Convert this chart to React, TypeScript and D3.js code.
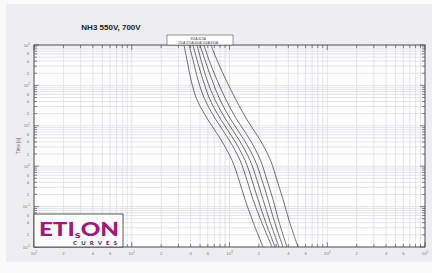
import React, { FC, useEffect, useRef } from "react";
import * as d3 from "d3";

// time points (s) shared by every curve
const times = [1000, 420, 136, 44, 14, 4.5, 1.4, 0.45, 0.15, 0.042, 0.01];

// prearcing currents (A), one list per rating
const i250 = [342, 368, 404, 465, 603, 819, 1061, 1251, 1441, 1740, 2202];
const i315 = [385, 424, 476, 561, 728, 989, 1281, 1510, 1740, 2126, 2722];
const i355 = [423, 466, 536, 632, 819, 1112, 1441, 1699, 1957, 2336, 2921];
const i400 = [465, 512, 589, 710, 921, 1251, 1621, 1911, 2202, 2597, 3210];
const i425 = [498, 562, 662, 799, 1036, 1408, 1824, 2150, 2477, 2887, 3527];
const i500 = [548, 618, 745, 921, 1194, 1621, 2076, 2419, 2786, 3210, 3875];
const i630 = [646, 746, 921, 1165, 1511, 2053, 2628, 3062, 3528, 4111, 5022];

const ratings = ["250A", "315A", "355A", "400A", "425A", "500A", "630A"];
const currents = [i250, i315, i355, i400, i425, i500, i630];

const legendTop = "355A  425A";
const legendBottom = "250A  315A  400A  500A  630A";

const minorLabels = [2, 4, 6];

const W = 432;
const H = 273;
const plot = { left: 34, right: 425, top: 45, bottom: 247 };

const App: FC = () => {
  const ref = useRef<SVGSVGElement>(null);

  useEffect(() => {
    const svg = d3.select(ref.current);
    svg.selectAll("*").remove();

    const x = d3.scaleLog().domain([10, 100000]).range([plot.left, plot.right]);
    const y = d3.scaleLog().domain([1000, 0.01]).range([plot.top, plot.bottom]);

    svg.append("rect").attr("width", W).attr("height", H).attr("fill", "#fafafa");
    svg
      .append("rect")
      .attr("x", 6)
      .attr("y", 4)
      .attr("width", W - 6)
      .attr("height", 258)
      .attr("fill", "#eeeef0");

    svg
      .append("text")
      .attr("x", 111)
      .attr("y", 30)
      .attr("text-anchor", "middle")
      .attr("font-family", "'Liberation Sans Narrow', 'Liberation Sans', sans-serif")
      .attr("font-weight", "bold")
      .attr("font-size", 8)
      .attr("fill", "#222")
      .text("NH3 550V, 700V");

    svg
      .append("rect")
      .attr("x", plot.left)
      .attr("y", plot.top)
      .attr("width", plot.right - plot.left)
      .attr("height", plot.bottom - plot.top)
      .attr("fill", "#fff");

    const xt = x.ticks();
    const yt = y.ticks();

    const grid = svg.append("g").attr("stroke", "#dcdce3").attr("stroke-width", 0.8);
    grid
      .selectAll("line.v")
      .data(xt)
      .join("line")
      .attr("class", "v")
      .attr("x1", (d) => x(d))
      .attr("x2", (d) => x(d))
      .attr("y1", plot.top)
      .attr("y2", plot.bottom);
    grid
      .selectAll("line.h")
      .data(yt)
      .join("line")
      .attr("class", "h")
      .attr("y1", (d) => y(d))
      .attr("y2", (d) => y(d))
      .attr("x1", plot.left)
      .attr("x2", plot.right);

    const isMajor = (d: number) => Math.abs(Math.log10(d) - Math.round(Math.log10(d))) < 1e-9;

    // inner tick marks on all four sides
    const ticks = svg.append("g").attr("stroke", "#555").attr("stroke-width", 0.7);
    xt.forEach((d) => {
      const len = isMajor(d) ? 5 : 3;
      ticks.append("line").attr("x1", x(d)).attr("x2", x(d)).attr("y1", plot.bottom).attr("y2", plot.bottom - len);
      ticks.append("line").attr("x1", x(d)).attr("x2", x(d)).attr("y1", plot.top).attr("y2", plot.top + len);
    });
    yt.forEach((d) => {
      const len = isMajor(d) ? 5 : 3;
      ticks.append("line").attr("y1", y(d)).attr("y2", y(d)).attr("x1", plot.left).attr("x2", plot.left + len);
      ticks.append("line").attr("y1", y(d)).attr("y2", y(d)).attr("x1", plot.right).attr("x2", plot.right - len);
    });

    // curves
    const line = d3
      .line<[number, number]>()
      .x((d) => x(d[0]))
      .y((d) => y(d[1]))
      .curve(d3.curveCatmullRom);

    svg
      .append("clipPath")
      .attr("id", "plotclip")
      .append("rect")
      .attr("x", plot.left)
      .attr("y", plot.top)
      .attr("width", plot.right - plot.left)
      .attr("height", plot.bottom - plot.top);

    svg
      .append("g")
      .attr("clip-path", "url(#plotclip)")
      .selectAll("path")
      .data(currents)
      .join("path")
      .attr("fill", "none")
      .attr("stroke", "#404040")
      .attr("stroke-width", 0.75)
      .attr("data-rating", (_, i) => ratings[i])
      .attr("d", (c) => line(c.map((v, i) => [v, times[i]] as [number, number])));

    // frame
    svg
      .append("rect")
      .attr("x", plot.left)
      .attr("y", plot.top)
      .attr("width", plot.right - plot.left)
      .attr("height", plot.bottom - plot.top)
      .attr("fill", "none")
      .attr("stroke", "#444")
      .attr("stroke-width", 0.9);

    const labelFont = "'Liberation Sans', sans-serif";
    const power = (g: any, d: number) => {
      const e = Math.round(Math.log10(d));
      g.append("tspan").text("10");
      g.append("tspan").attr("dy", -2).attr("font-size", 3).text(String(e));
    };

    // y labels
    const yl = svg.append("g").attr("font-family", labelFont).attr("font-size", 4.2).attr("fill", "#777");
    yt.forEach((d) => {
      if (isMajor(d)) {
        const t = yl.append("text").attr("x", 30).attr("y", y(d) + 1.5).attr("text-anchor", "end");
        power(t, d);
      } else {
        const m = Math.round(d / Math.pow(10, Math.floor(Math.log10(d) + 1e-9)));
        if (minorLabels.includes(m)) {
          yl.append("text").attr("x", 29).attr("y", y(d) + 1.5).attr("text-anchor", "end").text(String(m));
        }
      }
    });

    // x labels
    const xl = svg.append("g").attr("font-family", labelFont).attr("font-size", 4.2).attr("fill", "#777");
    xt.forEach((d) => {
      if (isMajor(d)) {
        const t = xl.append("text").attr("x", x(d)).attr("y", 255).attr("text-anchor", "middle");
        power(t, d);
      } else {
        const m = Math.round(d / Math.pow(10, Math.floor(Math.log10(d) + 1e-9)));
        if (minorLabels.includes(m)) {
          xl.append("text").attr("x", x(d)).attr("y", 255).attr("text-anchor", "middle").text(String(m));
        }
      }
    });

    svg
      .append("text")
      .attr("transform", `translate(20,${(plot.top + plot.bottom) / 2}) rotate(-90)`)
      .attr("text-anchor", "middle")
      .attr("font-family", labelFont)
      .attr("font-size", 4.5)
      .attr("fill", "#666")
      .text("Time [s]");

    // legend
    svg
      .append("rect")
      .attr("x", 167)
      .attr("y", 35)
      .attr("width", 66)
      .attr("height", 10)
      .attr("fill", "#fff")
      .attr("stroke", "#555")
      .attr("stroke-width", 0.6);
    const lg = svg
      .append("g")
      .attr("font-family", labelFont)
      .attr("font-size", 3.2)
      .attr("fill", "#444")
      .attr("text-anchor", "middle");
    lg.append("text").attr("x", 198).attr("y", 39.5).text(legendTop);
    lg.append("text").attr("x", 198).attr("y", 43.8).text(legendBottom);

    // logo
    svg
      .append("rect")
      .attr("x", plot.left)
      .attr("y", 214)
      .attr("width", 89)
      .attr("height", plot.bottom - 214)
      .attr("fill", "#fff")
      .attr("stroke", "#444")
      .attr("stroke-width", 0.9);
    const logo = svg
      .append("text")
      .attr("x", 39)
      .attr("y", 236)
      .attr("font-family", "Lato, 'Open Sans', sans-serif")
      .attr("font-weight", "900")
      .attr("fill", "#a5157a")
      .attr("font-size", 18)
      .attr("textLength", 80)
      .attr("lengthAdjust", "spacingAndGlyphs");
    logo.append("tspan").text("ETI");
    logo.append("tspan").attr("font-size", 10).attr("dy", 1.5).text("s");
    logo.append("tspan").attr("font-size", 18).attr("dy", -1.5).text("ON");
    svg
      .append("text")
      .attr("x", 73)
      .attr("y", 245)
      .attr("font-family", "Lato, 'Open Sans', sans-serif")
      .attr("font-weight", "900")
      .attr("fill", "#3d2c63")
      .attr("font-size", 6)
      .attr("textLength", 44)
      .attr("lengthAdjust", "spacing")
      .text("CURVES");
  }, []);

  return (
    <svg
      ref={ref}
      width={W}
      height={H}
      style={{ position: "absolute", left: 0, top: 0, display: "block" }}
    />
  );
};

export default App;
